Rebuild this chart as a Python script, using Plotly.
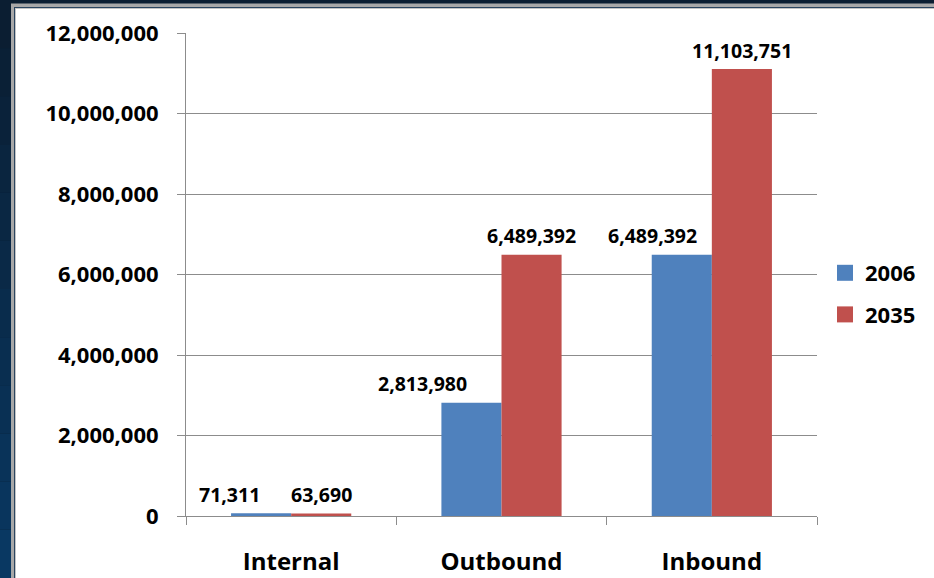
import plotly.graph_objects as go

categories = ["Internal", "Outbound", "Inbound"]
values_2006 = [71311, 2813980, 6489392]
values_2035 = [63690, 6489392, 11103751]
series_names = ["2006", "2035"]
y_tick_values = [0, 2000000, 4000000, 6000000, 8000000, 10000000, 12000000]

BLUE = "#4f81bd"
RED = "#c0504d"
GRID = "#8c8c8c"
FONT = "Open Sans"

W, H = 934, 578
L, R, T, B = 186, 117, 33, 62
PW, PH = W - L - R, H - T - B

# horizontal nudge (px) of each value label from its category centre
label_shift_2006 = [-62, -79, -59]
label_shift_2035 = [30, 30, 30]


def px(x):
    return (x - L) / PW


def py(y):
    return (H - B - y) / PH


fig = go.Figure()

for name, vals, color in [(series_names[0], values_2006, BLUE), (series_names[1], values_2035, RED)]:
    fig.add_trace(go.Bar(
        x=categories, y=vals, name=name, marker=dict(color=color, line=dict(width=0)),
        showlegend=False, hoverinfo="x+y",
    ))
    # legend entry with a square swatch
    fig.add_trace(go.Scatter(
        x=[None], y=[None], mode="markers", name=name, legendgroup=name,
        marker=dict(symbol="square", size=16, color=color),
    ))

annotations = []
for vals, shifts in [(values_2006, label_shift_2006), (values_2035, label_shift_2035)]:
    for cat, v, s in zip(categories, vals, shifts):
        annotations.append(dict(
            x=cat, y=v, xref="x", yref="y", text=f"{v:,}", showarrow=False,
            xanchor="center", yanchor="middle", xshift=s, yshift=19,
            font=dict(family=FONT, size=19.5, color="black", weight="bold"),
        ))

# framed slide background
shapes = []
n = 12
for i in range(n):
    y0 = H * i / n
    y1 = H * (i + 1) / n
    f = i / (n - 1)
    r = int(11 + (9 - 11) * f)
    g = int(30 + (56 - 30) * f)
    b = int(50 + (98 - 50) * f)
    shapes.append(dict(type="rect", xref="paper", yref="paper", layer="below",
                       x0=px(0), x1=px(W), y0=py(y0), y1=py(y1),
                       fillcolor=f"rgb({r},{g},{b})", line=dict(width=0)))
for x0, y0, col in [(11, 3.5, "#a8a8a8"), (14, 7, "#2a4560"), (15, 8, "#c4c4c4"), (16, 9, "#ffffff")]:
    shapes.append(dict(type="rect", xref="paper", yref="paper", layer="below",
                       x0=px(x0), x1=px(W), y0=py(y0), y1=py(H),
                       fillcolor=col, line=dict(width=0)))

fig.update_layout(
    width=W, height=H,
    margin=dict(l=L, r=R, t=T, b=B, autoexpand=False),
    paper_bgcolor="rgb(11,30,50)",
    plot_bgcolor="rgba(0,0,0,0)",
    barmode="group", bargap=0.4286, bargroupgap=0,
    shapes=shapes,
    annotations=annotations,
    font=dict(family=FONT, color="black"),
    legend=dict(x=px(825), y=py(294), xanchor="left", yanchor="middle",
                font=dict(family=FONT, size=22, color="black", weight="bold"),
                tracegroupgap=10, bgcolor="rgba(0,0,0,0)"),
    xaxis=dict(
        showline=True, linecolor=GRID, linewidth=1, automargin=False,
        ticks="outside", tickson="boundaries", ticklen=8, tickcolor=GRID,
        tickfont=dict(family=FONT, size=24, color="black", weight="bold"),
        ticklabelstandoff=24,
    ),
    yaxis=dict(
        range=[0, 12000000], tickvals=y_tick_values, tickformat=",",
        showline=True, linecolor=GRID, linewidth=1, automargin=False,
        showgrid=True, gridcolor=GRID, gridwidth=1,
        ticks="outside", ticklen=8, tickcolor=GRID,
        tickfont=dict(family=FONT, size=22, color="black", weight="bold"),
        ticklabelstandoff=14, zeroline=False,
    ),
)

fig.write_html("out.html")
